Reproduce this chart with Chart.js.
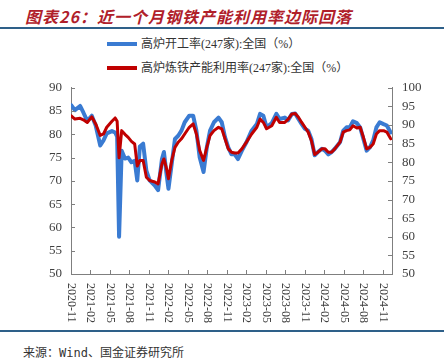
<!DOCTYPE html>
<html>
<head>
<meta charset="utf-8">
<script src="https://cdn.jsdelivr.net/npm/chart.js@4.4.1/dist/chart.umd.min.js"></script>
<style>
body{margin:0;width:448px;height:363px;background:#fff;position:relative;overflow:hidden;font-family:"Liberation Serif","Noto Sans CJK SC",serif;}
#title{position:absolute;left:25px;top:4px;font:italic bold 16px "Noto Sans CJK SC",sans-serif;color:#b0202a;letter-spacing:1px;white-space:nowrap;}
.rule{position:absolute;left:0;width:444px;height:2px;background:#2e6089;}
.leg{position:absolute;left:107px;font-size:12px;line-height:16px;color:#333;white-space:nowrap;}
.leg i{display:inline-block;width:30px;height:4px;vertical-align:middle;margin-right:4px;position:relative;top:-1px;}
#box{position:absolute;left:0;top:70px;width:448px;height:260px;}
#src{position:absolute;left:23px;top:343px;font-size:12px;color:#333;font-family:"DejaVu Sans Mono","Noto Sans CJK SC",monospace;white-space:nowrap;}
</style>
</head>
<body>
<div id="title">图表26：近一个月钢铁产能利用率边际回落</div>
<div class="rule" style="top:27px"></div>
<div class="leg" style="top:36px"><i style="background:#3a7bd2"></i>高炉开工率(247家):全国（%）</div>
<div class="leg" style="top:60px"><i style="background:#c00000"></i>高炉炼铁产能利用率(247家):全国（%）</div>
<div id="box"><canvas id="myChart"></canvas></div>
<div class="rule" style="top:330px"></div>
<div id="src">来源：Wind、国金证券研究所</div>

<script>
// readings, roughly twice a month
let dates = ['2020-11-01','2020-11-19','2020-12-13','2020-12-28','2021-01-16','2021-02-07','2021-02-25','2021-03-16',
	'2021-04-01','2021-04-16','2021-05-10','2021-05-25','2021-06-04','2021-06-13','2021-06-25','2021-07-10',
	'2021-07-25','2021-08-10','2021-08-25','2021-09-07','2021-09-19','2021-10-04','2021-10-19','2021-11-04',
	'2021-11-28','2021-12-13','2022-01-01','2022-01-10','2022-01-22','2022-02-01','2022-02-16','2022-03-01',
	'2022-03-16','2022-04-01','2022-04-16','2022-05-07','2022-05-25','2022-06-10','2022-06-25','2022-07-13',
	'2022-07-28','2022-08-13','2022-09-01','2022-09-22','2022-10-07','2022-10-22','2022-11-07','2022-11-22',
	'2022-12-07','2022-12-22','2023-01-10','2023-02-01','2023-02-25','2023-03-19','2023-04-04','2023-04-19',
	'2023-05-04','2023-05-28','2023-06-19','2023-07-04','2023-07-28','2023-08-13','2023-09-01','2023-09-16',
	'2023-10-01','2023-10-16','2023-11-01','2023-11-16','2023-12-01','2023-12-16','2024-01-01','2024-01-19',
	'2024-02-04','2024-02-19','2024-03-04','2024-03-19','2024-04-13','2024-04-28','2024-05-13','2024-05-28',
	'2024-06-13','2024-07-01','2024-07-16','2024-08-01','2024-08-16','2024-09-01','2024-09-16','2024-10-01',
	'2024-10-16','2024-11-04','2024-11-19','2024-12-07'];

// 高炉开工率, left axis
let furnaceRate = [86.3,85.2,86.1,84.7,82.9,84.0,81.9,77.6,
	78.7,80.2,80.7,80.4,79.5,58.0,76.5,74.8,
	75.0,74.0,74.3,70.1,77.4,78.0,72.2,70.1,
	69.0,68.0,74.7,76.2,71.5,68.3,73.7,79.0,
	79.7,80.8,82.6,84.0,84.0,80.8,75.1,71.9,
	77.2,80.8,82.6,83.6,82.6,79.4,77.2,75.7,
	75.7,74.7,76.5,78.3,80.8,82.2,84.4,84.0,
	81.5,82.4,84.4,83.3,83.6,83.0,84.4,84.5,
	83.3,82.2,81.2,80.8,79.0,75.5,76.2,76.9,
	76.5,75.7,76.2,76.9,78.3,80.8,81.5,81.5,
	82.8,82.4,81.5,79.0,76.5,77.2,78.7,81.5,
	82.6,82.2,81.9,80.4];

// 高炉炼铁产能利用率, right axis
let ironRate = [92.5,91.6,91.8,91.4,90.7,92.2,90.3,87.2,
	87.6,89.4,91.0,91.9,91.0,81.2,88.5,87.5,
	86.7,85.6,84.9,79.0,80.5,80.5,76.0,75.1,
	74.7,74.2,79.6,80.9,78.3,75.6,80.5,84.0,
	85.4,86.3,87.6,89.4,90.3,87.6,83.2,80.5,
	84.0,87.2,88.5,89.4,89.0,86.3,83.6,82.7,
	82.5,82.5,83.6,85.4,87.6,89.4,91.6,90.7,
	89.0,89.8,92.1,90.7,90.7,91.5,93.0,93.1,
	92.1,90.7,89.4,88.1,85.8,82.1,82.7,83.6,
	83.6,82.7,82.7,83.6,85.4,88.1,88.5,88.7,
	89.8,89.2,89.4,86.7,83.6,84.0,84.9,87.6,
	88.5,88.5,88.1,86.3];

let leftTicks = [50, 90, 5];
let rightTicks = [50, 100, 5];

// months counted from 2020-11
function monthOffset(d){
	let p = d.split('-').map(Number);
	return (p[0] - 2020) * 12 + (p[1] - 11) + (p[2] - 1) / 30;
}
function monthLabel(v){
	let n = 10 + v;
	let y = 2020 + Math.floor(n / 12);
	let m = n % 12 + 1;
	return y + '-' + (m < 10 ? '0' + m : m);
}

let axisGray = '#7f7f7f';
let tickFont = {family: '"Liberation Serif", serif', size: 13};

// inward tick marks and vertical date labels
let tickPlugin = {
	id: 'innerTicks',
	afterDraw(chart){
		let c = chart.ctx, a = chart.chartArea;
		c.save();
		c.strokeStyle = axisGray;
		c.lineWidth = 1;
		c.beginPath();
		chart.scales.y.ticks.forEach((t, i) => {
			let y = Math.round(chart.scales.y.getPixelForTick(i)) + 0.5;
			c.moveTo(a.left, y); c.lineTo(a.left + 4, y);
		});
		chart.scales.y2.ticks.forEach((t, i) => {
			let y = Math.round(chart.scales.y2.getPixelForTick(i)) + 0.5;
			c.moveTo(a.right, y); c.lineTo(a.right - 4, y);
		});
		let xs = chart.scales.x;
		xs.ticks.forEach(t => {
			if (t.value % 3 !== 0) return;
			let x = Math.round(xs.getPixelForValue(t.value)) + 0.5;
			c.moveTo(x, a.bottom); c.lineTo(x, a.bottom - 4);
		});
		c.stroke();
		c.fillStyle = '#404040';
		c.font = '12px "Liberation Serif", serif';
		c.textAlign = 'left';
		c.textBaseline = 'middle';
		xs.ticks.forEach(t => {
			if (t.value % 3 !== 0) return;
			let x = xs.getPixelForValue(t.value);
			c.save();
			c.translate(x, a.bottom + 9);
			c.rotate(Math.PI / 2);
			c.fillText(monthLabel(t.value), 0, 0);
			c.restore();
		});
		c.restore();
	}
};

let ctx = document.getElementById('myChart').getContext('2d');
let myChart = new Chart(ctx, {
	type: 'line',
	data: {
		datasets: [{
			label: '高炉炼铁产能利用率(247家):全国（%）',
			data: dates.map((d, i) => ({x: monthOffset(d), y: ironRate[i]})),
			yAxisID: 'y2',
			borderColor: '#c00000',
			borderWidth: 3,
			order: 1
		}, {
			label: '高炉开工率(247家):全国（%）',
			data: dates.map((d, i) => ({x: monthOffset(d), y: furnaceRate[i]})),
			yAxisID: 'y',
			borderColor: '#3a7bd2',
			borderWidth: 4,
			order: 2
		}]
	},
	options: {
		responsive: true,
		maintainAspectRatio: false,
		animation: false,
		layout: {padding: 0},
		elements: {
			point: {radius: 0},
			line: {tension: 0, borderJoinStyle: 'round', borderCapStyle: 'round'}
		},
		plugins: {legend: {display: false}, tooltip: {enabled: false}},
		scales: {
			x: {
				type: 'linear',
				min: 0,
				max: 49.4,
				grid: {display: false},
				border: {color: axisGray},
				ticks: {display: false, stepSize: 3, includeBounds: false},
				afterFit(s){ s.height = 56; }
			},
			y: {
				position: 'left',
				min: leftTicks[0], max: leftTicks[1],
				grid: {display: false, drawTicks: false},
				border: {color: axisGray},
				ticks: {stepSize: leftTicks[2], autoSkip: false, padding: 9, color: '#404040', font: tickFont},
				afterFit(s){ s.width = 71; }
			},
			y2: {
				position: 'right',
				min: rightTicks[0], max: rightTicks[1],
				grid: {display: false, drawTicks: false},
				border: {color: axisGray},
				ticks: {stepSize: rightTicks[2], autoSkip: false, padding: 10, color: '#404040', font: tickFont},
				afterFit(s){ s.width = 56; }
			}
		}
	},
	plugins: [tickPlugin]
});
</script>
</body>
</html>
